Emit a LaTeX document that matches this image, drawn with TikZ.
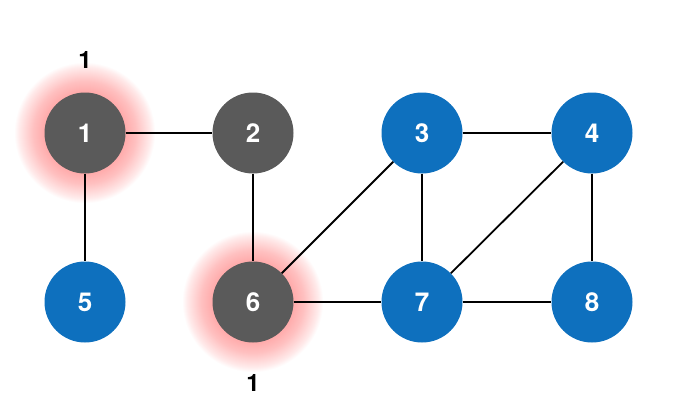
\documentclass[tikz,border=0pt]{standalone}
\usepackage{fontspec}
\setmainfont{TeX Gyre Heros}
\definecolor{nodeblue}{RGB}{14,112,190}
\definecolor{nodegray}{RGB}{90,90,90}
\definecolor{glowred}{RGB}{255,110,110}
\tikzset{
  vtx/.style={circle, minimum size=81pt, inner sep=0pt, text=white, font=\bfseries\fontsize{26}{26}\selectfont},
  bluev/.style={vtx, fill=nodeblue},
  grayv/.style={vtx, fill=nodegray},
  edge/.style={draw=black, line width=1.8pt},
  lbl/.style={font=\bfseries\fontsize{24}{24}\selectfont, text=black}
}
\begin{document}
\begin{tikzpicture}[x=1pt,y=-1pt]
\useasboundingbox (0,0) rectangle (673,418);
\fill[white] (0,0) rectangle (673,418);
% glows
\foreach \cx/\cy in {85/133, 253/302}{
  \foreach \r in {70,69,...,41}{
    \fill[glowred, opacity=0.025] (\cx,\cy) circle (\r);
  }
}
\node[grayv] (n1) at (85,133) {1};
\node[grayv] (n2) at (253,133) {2};
\node[bluev] (n3) at (422,133) {3};
\node[bluev] (n4) at (592,133) {4};
\node[bluev] (n5) at (85,302) {5};
\node[grayv] (n6) at (253,302) {6};
\node[bluev] (n7) at (422,302) {7};
\node[bluev] (n8) at (592,302) {8};
\draw[edge] (n1) -- (n2);
\draw[edge] (n1) -- (n5);
\draw[edge] (n2) -- (n6);
\draw[edge] (n3) -- (n4);
\draw[edge] (n3) -- (n7);
\draw[edge] (n3) -- (n6);
\draw[edge] (n4) -- (n7);
\draw[edge] (n4) -- (n8);
\draw[edge] (n6) -- (n7);
\draw[edge] (n7) -- (n8);
\node[lbl] (t1) at (85,60) {1};
\node[lbl] (t6) at (253,383) {1};
\end{tikzpicture}
\end{document}
